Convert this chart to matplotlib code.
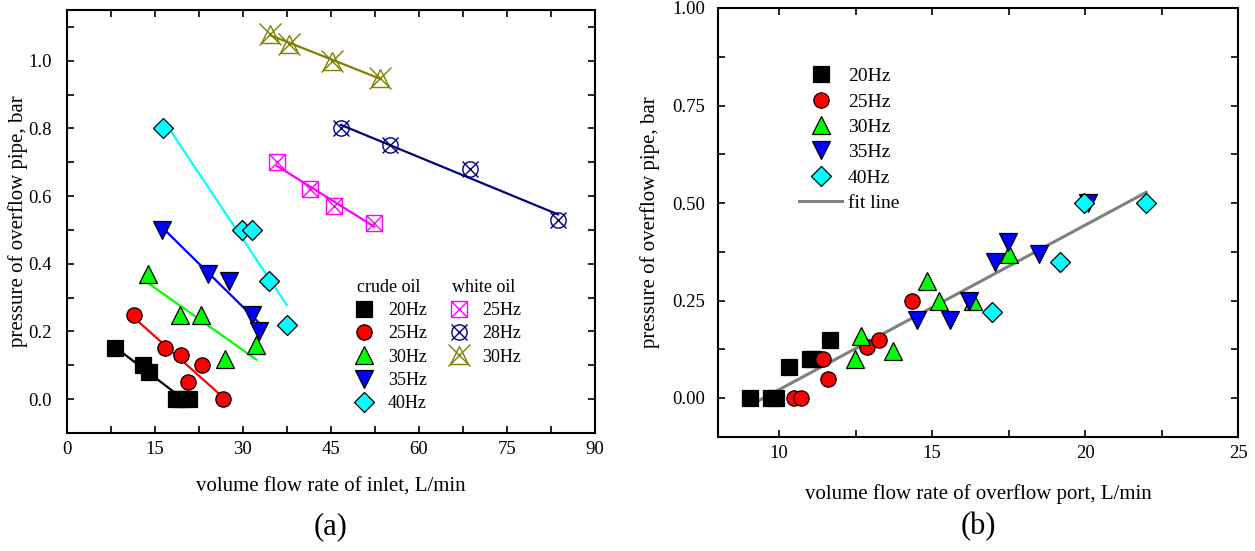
import numpy as np
import matplotlib
matplotlib.use("Agg")
import matplotlib.pyplot as plt
from matplotlib.lines import Line2D
from matplotlib.legend_handler import HandlerTuple
from matplotlib.ticker import MultipleLocator

plt.rcParams['font.family'] = ['Liberation Serif', 'DejaVu Serif']
plt.rcParams['axes.linewidth'] = 1.5

# ---------------- panel (a): inlet flow rate vs overflow pressure ----------------
crude_labels = ["20Hz", "25Hz", "30Hz", "35Hz", "40Hz"]
crude_q = [
    [8.2, 13.0, 14.1, 18.6, 19.6, 20.8],
    [11.5, 16.8, 19.4, 23.1, 20.6, 26.7],
    [13.9, 19.3, 22.9, 27.0, 32.3],
    [16.2, 24.0, 27.6, 31.6, 32.7],
    [16.4, 29.9, 31.6, 34.4, 37.5],
]
crude_p = [
    [0.15, 0.10, 0.08, 0.00, 0.00, 0.00],
    [0.25, 0.15, 0.13, 0.10, 0.05, 0.00],
    [0.37, 0.25, 0.25, 0.12, 0.16],
    [0.50, 0.37, 0.35, 0.25, 0.20],
    [0.80, 0.50, 0.50, 0.35, 0.22],
]
crude_colors = ["#000000", "#ff0000", "#00ff00", "#0000ff", "#00ffff"]
crude_markers = ["s", "o", "^", "v", "D"]
crude_sizes = [11, 11, 13, 13, 10]

white_labels = ["25Hz", "28Hz", "30Hz"]
white_q = [
    [35.8, 41.5, 45.6, 52.4],
    [46.7, 55.1, 68.7, 83.7],
    [34.7, 37.8, 45.2, 53.3],
]
white_p = [
    [0.70, 0.62, 0.57, 0.52],
    [0.80, 0.75, 0.68, 0.53],
    [1.08, 1.05, 1.00, 0.95],
]
white_colors = ["#ff00ff", "#000080", "#808000"]
white_markers = ["s", "o", "^"]
white_sizes = [11, 11, 13]
white_cross_sizes = [11, 11, 16]

# ---------------- panel (b): overflow-port flow rate vs overflow pressure ----------------
port_labels = ["20Hz", "25Hz", "30Hz", "35Hz", "40Hz"]
port_q = [
    [9.06, 9.74, 9.89, 10.33, 11.0, 11.1, 11.66],
    [10.49, 10.71, 11.44, 11.6, 12.88, 13.27, 14.33],
    [12.48, 12.66, 13.71, 14.82, 15.23, 16.35, 17.52],
    [14.49, 15.6, 16.22, 17.06, 17.49, 18.5, 20.1],
    [16.95, 19.18, 19.97, 22.0],
]
port_p = [
    [0.00, 0.00, 0.00, 0.08, 0.10, 0.10, 0.15],
    [0.00, 0.00, 0.10, 0.05, 0.13, 0.15, 0.25],
    [0.10, 0.16, 0.12, 0.30, 0.25, 0.25, 0.37],
    [0.20, 0.20, 0.25, 0.35, 0.40, 0.37, 0.50],
    [0.22, 0.35, 0.50, 0.50],
]

W, H = 1255, 551
fig = plt.figure(figsize=(W / 100, H / 100), dpi=100)
axA = fig.add_axes([66.7 / W, 1 - 433 / H, 528.3 / W, 423 / H])
axB = fig.add_axes([718 / W, 1 - 437 / H, 520 / W, 429 / H])


def style_axes(ax, ypad):
    ax.tick_params(which='both', direction='in', top=True, right=True,
                   width=1.2, labelsize=13.5)
    ax.tick_params(which='major', length=5)
    ax.tick_params(which='minor', length=5)
    ax.tick_params(axis='x', pad=6)
    ax.tick_params(axis='y', pad=ypad)


def fit_line(ax, x, y, color, lw, z=2):
    x = np.asarray(x, float)
    y = np.asarray(y, float)
    k, b = np.polyfit(x, y, 1)
    xs = np.array([x.min(), x.max()])
    ax.plot(xs, k * xs + b, color=color, lw=lw, zorder=z)


# panel (a)
for q, p, c, m, s in zip(crude_q, crude_p, crude_colors, crude_markers, crude_sizes):
    fit_line(axA, q, p, c, 1.6)
    axA.plot(q, p, ls='none', marker=m, ms=s, mfc=c, mec='black', mew=0.9, zorder=3)

for q, p, c, m, s, xs in zip(white_q, white_p, white_colors, white_markers,
                              white_sizes, white_cross_sizes):
    fit_line(axA, q, p, c, 1.6)
    axA.plot(q, p, ls='none', marker=m, ms=s, mfc='none', mec=c, mew=1.0, zorder=3)
    axA.plot(q, p, ls='none', marker='x', ms=xs, mec=c, mew=1.0, zorder=3)

axA.set_xlim(0, 90)
axA.set_ylim(-0.1, 1.15)
axA.xaxis.set_major_locator(MultipleLocator(15))
axA.xaxis.set_minor_locator(MultipleLocator(7.5))
axA.yaxis.set_major_locator(MultipleLocator(0.2))
axA.yaxis.set_minor_locator(MultipleLocator(0.1))
axA.yaxis.set_major_formatter(plt.FuncFormatter(lambda v, _: f"{v:.1f}"))
style_axes(axA, 11)
axA.set_xlabel("volume flow rate of inlet, L/min", fontsize=15, labelpad=14)
axA.set_ylabel("pressure of overflow pipe, bar", fontsize=15, labelpad=0)

crude_handles = [Line2D([], [], ls='none', marker=m, ms=s, mfc=c, mec='black', mew=0.9)
                 for c, m, s in zip(crude_colors, crude_markers, crude_sizes)]
white_handles = [(Line2D([], [], ls='none', marker=m, ms=s, mfc='none', mec=c, mew=1.0),
                  Line2D([], [], ls='none', marker='x', ms=xs, mec=c, mew=1.0))
                 for c, m, s, xs in zip(white_colors, white_markers, white_sizes,
                                        white_cross_sizes)]

legA1 = axA.legend(crude_handles, crude_labels, title="crude oil", alignment='left',
                   loc='upper left', bbox_to_anchor=(0.526, 0.395), frameon=False,
                   fontsize=13, title_fontsize=13, handlelength=0.8,
                   handletextpad=0.9, labelspacing=0.35, borderpad=0.2)
axA.add_artist(legA1)
legA2 = axA.legend(white_handles, white_labels, title="white oil", alignment='left',
                   loc='upper left', bbox_to_anchor=(0.705, 0.395), frameon=False,
                   fontsize=13, title_fontsize=13, handlelength=0.8,
                   handletextpad=0.9, labelspacing=0.35, borderpad=0.2,
                   handler_map={tuple: HandlerTuple(ndivide=1, pad=0)})

# panel (b)
for q, p, c, m, s in zip(port_q, port_p, crude_colors, crude_markers, crude_sizes):
    axB.plot(q, p, ls='none', marker=m, ms=s, mfc=c, mec='black', mew=0.9, zorder=3)

all_q = np.concatenate([np.asarray(q, float) for q in port_q])
all_p = np.concatenate([np.asarray(p, float) for p in port_p])
fit_line(axB, all_q, all_p, "#808080", 2.2)

axB.set_xlim(8, 25)
axB.set_ylim(-0.1, 1.0)
axB.xaxis.set_major_locator(MultipleLocator(5))
axB.xaxis.set_minor_locator(MultipleLocator(2.5))
axB.yaxis.set_major_locator(MultipleLocator(0.25))
axB.yaxis.set_minor_locator(MultipleLocator(0.125))
axB.yaxis.set_major_formatter(plt.FuncFormatter(lambda v, _: f"{v:.2f}"))
style_axes(axB, 9)
axB.set_xlabel("volume flow rate of overflow port, L/min", fontsize=15, labelpad=16)
axB.set_ylabel("pressure of overflow pipe, bar", fontsize=15, labelpad=9)

port_handles = [Line2D([], [], ls='none', marker=m, ms=s, mfc=c, mec='black', mew=0.9)
                for c, m, s in zip(crude_colors, crude_markers, crude_sizes)]
port_handles.append(Line2D([], [], color="#808080", lw=2.2))
axB.legend(port_handles, port_labels + ["fit line"], loc='upper left',
           bbox_to_anchor=(0.13, 0.893), frameon=False, fontsize=14,
           handlelength=2.2, handletextpad=0.3, labelspacing=0.4, borderpad=0.2)

fig.text((66.7 + 595) / 2 / W, 1 - 527 / H, "(a)", fontsize=22, ha='center', va='center')
fig.text((718 + 1238) / 2 / W, 1 - 527 / H, "(b)", fontsize=22, ha='center', va='center')

fig.savefig("out.png", dpi=100)
